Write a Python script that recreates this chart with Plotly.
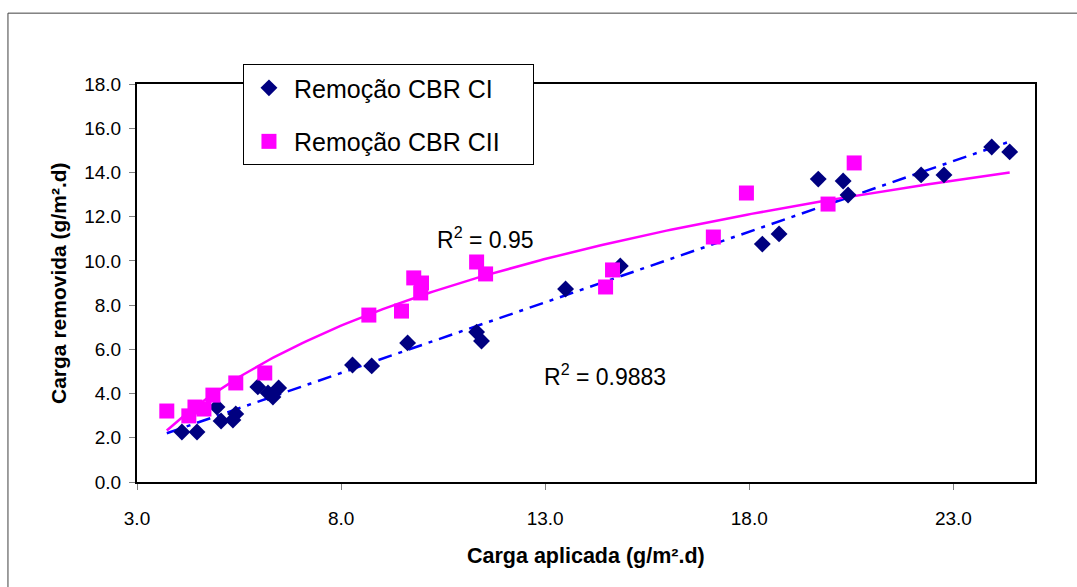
import numpy as np
import plotly.graph_objects as go

# Remoção CBR CI: carga aplicada vs carga removida (g/m².d)
ci_aplicada = [4.10, 4.47, 4.96, 5.06, 5.35, 5.42, 5.96, 6.21, 6.33, 6.47,
               8.28, 8.75, 9.63, 11.32, 11.44, 13.50, 14.84, 18.32, 18.73,
               19.69, 20.30, 20.42, 22.21, 22.77, 23.94, 24.38]
ci_removida = [2.26, 2.26, 3.39, 2.76, 2.80, 3.08, 4.30, 4.03, 3.84, 4.25,
               5.29, 5.25, 6.29, 6.78, 6.38, 8.73, 9.77, 10.76, 11.22,
               13.70, 13.61, 12.98, 13.89, 13.89, 15.15, 14.93]

# Remoção CBR CII
cii_aplicada = [3.73, 4.27, 4.42, 4.64, 4.86, 5.42, 6.13, 8.68, 9.48, 9.78,
                9.97, 9.95, 11.32, 11.54, 14.48, 14.65, 17.12, 17.93, 19.93, 20.57]
cii_removida = [3.21, 2.99, 3.39, 3.30, 3.93, 4.48, 4.93, 7.55, 7.73, 9.23,
                9.00, 8.55, 9.95, 9.41, 8.82, 9.59, 11.08, 13.07, 12.57, 14.43]

r2_ci_label = "R<sup>2</sup> = 0.9883"
r2_cii_label = "R<sup>2</sup> = 0.95"

x_ticks = [3.0, 8.0, 13.0, 18.0, 23.0]
y_ticks = [0.0, 2.0, 4.0, 6.0, 8.0, 10.0, 12.0, 14.0, 16.0, 18.0]

FONT = "Arial, Liberation Sans, sans-serif"
PAD = "\u00a0" * 4  # right padding inside the legend box

# Trend lines: linear for CI, logarithmic for CII, over the full x span
x_all = np.array(ci_aplicada + cii_aplicada)
xs = np.linspace(x_all.min(), x_all.max(), 200)
a_lin, b_lin = np.polyfit(ci_aplicada, ci_removida, 1)
a_log, b_log = np.polyfit(np.log(cii_aplicada), cii_removida, 1)
y_lin = a_lin * xs + b_lin
y_log = a_log * np.log(xs) + b_log

fig = go.Figure()

fig.add_trace(go.Scatter(
    x=xs, y=y_lin, mode="lines", showlegend=False, hoverinfo="skip",
    line=dict(color="#0000FF", width=2.5, dash="14px,7px,4px,7px"),
))
fig.add_trace(go.Scatter(
    x=xs, y=y_log, mode="lines", showlegend=False, hoverinfo="skip",
    line=dict(color="#FF00FF", width=2.5),
))
fig.add_trace(go.Scatter(
    x=ci_aplicada, y=ci_removida, mode="markers", name="Remoção CBR CI",
    legendgroup="ci",
    marker=dict(symbol="diamond", size=13, color="#000080"),
))
fig.add_trace(go.Scatter(
    x=cii_aplicada, y=cii_removida, mode="markers", name="Remoção CBR CII" + PAD,
    legendgroup="cii",
    marker=dict(symbol="square", size=15, color="#FF00FF"),
))

axis_common = dict(
    showline=True, linecolor="black", linewidth=2, mirror=True,
    ticks="outside", ticklen=6, tickcolor="#808080", tickwidth=1,
    showgrid=False, zeroline=False,
    tickfont=dict(family=FONT, size=19, color="black"),
    tickformat=".1f",
)

fig.update_xaxes(range=[3, 25], tickvals=x_ticks, ticklabelstandoff=12, **axis_common)
fig.update_yaxes(range=[0, 18], tickvals=y_ticks, ticklabelstandoff=4, **axis_common)

fig.update_layout(
    width=1077, height=587,
    margin=dict(l=137, r=42, t=84, b=105),
    paper_bgcolor="white", plot_bgcolor="white",
    font=dict(family=FONT, color="black"),
    legend=dict(
        x=0.118, y=1.05, xanchor="left", yanchor="top",
        bgcolor="white", bordercolor="black", borderwidth=1,
        font=dict(family=FONT, size=25, color="black"),
        tracegroupgap=18, itemwidth=40,
    ),
    annotations=[
        dict(text=r2_cii_label, x=11.53, y=11.04, xref="x", yref="y",
             showarrow=False, font=dict(family=FONT, size=23, color="black")),
        dict(text=r2_ci_label, x=14.47, y=4.84, xref="x", yref="y",
             showarrow=False, font=dict(family=FONT, size=23, color="black")),
        dict(text="<b>Carga aplicada (g/m².d)</b>", x=0.5, y=-0.186,
             xref="paper", yref="paper", xanchor="center", yanchor="middle",
             showarrow=False, font=dict(family=FONT, size=21.5, color="black")),
        dict(text="<b>Carga removida (g/m².d)</b>", x=-0.088, y=0.5,
             xref="paper", yref="paper", xanchor="center", yanchor="middle",
             showarrow=False, textangle=-90,
             font=dict(family=FONT, size=21, color="black")),
    ],
    shapes=[
        # outer chart frame (top and left edges)
        dict(type="line", xref="paper", yref="paper", x0=-0.1437, x1=1.05,
             y0=1.178, y1=1.178, line=dict(color="#404040", width=1)),
        dict(type="line", xref="paper", yref="paper", x0=-0.1437, x1=-0.1437,
             y0=1.178, y1=-0.27, line=dict(color="#404040", width=1)),
    ],
)

fig.write_html("out.html")
